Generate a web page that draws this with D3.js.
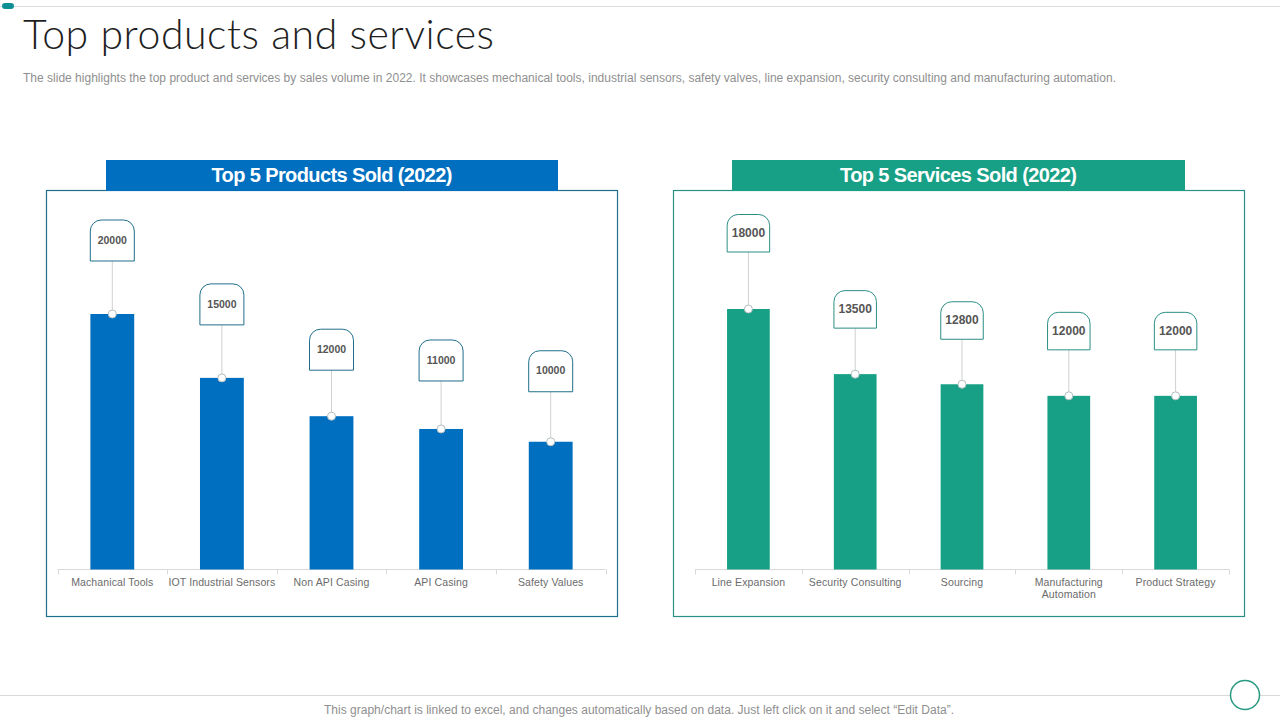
<!DOCTYPE html>
<html lang="en">
<head>
  <meta charset="UTF-8">
  <title>Top products and services</title>
  <script src="https://d3js.org/d3.v7.min.js"></script>
  <style>
    html, body { margin: 0; padding: 0; background: #fff; }
    svg { display: block; }
    text { font-family: "Liberation Sans", Arial, sans-serif; }
    .title { font-family: Lato, sans-serif; font-weight: 300; font-size: 41px; fill: #1f1f1f; }
    .note { font-size: 12px; fill: #8f8f8f; }
    .head { font-size: 20px; font-weight: bold; fill: #fff; text-anchor: middle; }
    .cat { font-size: 10.5px; fill: #6b6b6b; text-anchor: middle; letter-spacing: .12px; }
    .axis line, .axis path { stroke: #d9d9d9; }
    .val { font-weight: bold; fill: #555; text-anchor: middle; }
  </style>
</head>
<body>
  <svg id="slide" width="1280" height="720"></svg>
  <script>
    const productNames = ['Machanical Tools', 'IOT Industrial Sensors', 'Non API Casing', 'API Casing', 'Safety Values'];
    const productValues = [20000, 15000, 12000, 11000, 10000];
    const productLeaders = [53, 53, 46, 48, 50]; // stem length above each bar

    const serviceNames = ['Line Expansion', 'Security Consulting', 'Sourcing', 'Manufacturing|Automation', 'Product Strategy'];
    const serviceValues = [18000, 13500, 12800, 12000, 12000];
    const serviceLeaders = [57, 46, 45, 46, 46];

    const svg = d3.select('#slide');

    // slide furniture
    svg.append('line').attr('x1', 0).attr('x2', 1280).attr('y1', 6.5).attr('y2', 6.5).attr('stroke', '#dedede');
    svg.append('rect').attr('x', 2).attr('y', 3).attr('width', 12).attr('height', 6).attr('rx', 3).attr('fill', '#0f8f96');
    svg.append('text').attr('class', 'title').attr('x', 23).attr('y', 49)
      .attr('textLength', 471).text('Top products and services');
    svg.append('text').attr('class', 'note').attr('x', 23).attr('y', 82).attr('textLength', 1093)
      .text('The slide highlights the top product and services by sales volume in 2022. It showcases mechanical tools, industrial sensors, safety valves,  line expansion, security consulting and manufacturing automation.');

    svg.append('line').attr('x1', 0).attr('x2', 1280).attr('y1', 695.5).attr('y2', 695.5).attr('stroke', '#d9d9d9');
    svg.append('circle').attr('cx', 1245).attr('cy', 695).attr('r', 14.5)
      .attr('fill', '#fff').attr('stroke', '#2a9a80').attr('stroke-width', 1.5);
    svg.append('text').attr('class', 'note').attr('x', 639).attr('y', 714).attr('text-anchor', 'middle')
      .attr('textLength', 630).text('This graph/chart is linked to excel, and changes automatically based on data. Just left click on it and select \u201cEdit Data\u201d.');

    function callout(g, x, top, w, h, r) {
      const path = d3.path();
      path.moveTo(x - w / 2, top + h);
      path.lineTo(x - w / 2, top + r);
      path.arcTo(x - w / 2, top, x - w / 2 + r, top, r);
      path.lineTo(x + w / 2 - r, top);
      path.arcTo(x + w / 2, top, x + w / 2, top + r, r);
      path.lineTo(x + w / 2, top + h);
      path.closePath();
      return g.append('path').attr('d', path.toString());
    }

    function drawPanel(cfg) {
      const g = svg.append('g');

      g.append('rect').attr('x', cfg.frame[0]).attr('y', 190.5)
        .attr('width', cfg.frame[1] - cfg.frame[0]).attr('height', 426)
        .attr('fill', '#fff').attr('stroke', cfg.frameColor).attr('stroke-width', 1.2);
      g.append('rect').attr('x', cfg.header[0]).attr('y', 160)
        .attr('width', cfg.header[1] - cfg.header[0]).attr('height', 31).attr('fill', cfg.color);
      g.append('text').attr('class', 'head').attr('x', (cfg.header[0] + cfg.header[1]) / 2).attr('y', 182)
        .attr('textLength', cfg.headWidth).text(cfg.title);

      const x = d3.scaleBand().domain(cfg.names).range(cfg.axis).paddingInner(0.6).paddingOuter(0.3);
      const y = d3.scaleLinear().domain([0, cfg.max]).range([569.5, cfg.top]);

      const axis = g.append('g').attr('class', 'axis').attr('transform', 'translate(0,569.5)')
        .call(d3.axisBottom(x).tickSize(0).tickFormat(''));
      axis.selectAll('.tick').remove();
      axis.select('.domain').attr('d', `M${cfg.axis[0]},0H${cfg.axis[1]}`);

      // ticks sit between categories, not under them
      d3.range(cfg.names.length + 1).forEach(i => {
        const tx = Math.round(cfg.axis[0] + i * x.step()) + 0.5;
        axis.append('line').attr('x1', tx).attr('x2', tx).attr('y1', 0).attr('y2', 5);
      });

      g.selectAll('.bar').data(cfg.values).enter().append('rect')
        .attr('class', 'bar')
        .attr('x', (d, i) => x(cfg.names[i]))
        .attr('y', d => y(d))
        .attr('width', x.bandwidth())
        .attr('height', d => 569.5 - y(d))
        .attr('fill', cfg.color);

      const label = g.selectAll('.cat').data(cfg.names).enter().append('text')
        .attr('class', 'cat')
        .attr('y', 586);
      label.selectAll('tspan').data(d => d.split('|').map(t => ({ t, d }))).enter().append('tspan')
        .attr('x', d => x(d.d) + x.bandwidth() / 2)
        .attr('dy', (d, i) => i ? 12 : 0)
        .text(d => d.t);

      cfg.values.forEach((v, i) => {
        const cx = x(cfg.names[i]) + x.bandwidth() / 2;
        const top = y(v);
        const boxBottom = top - cfg.leaders[i];
        g.append('line').attr('x1', cx).attr('x2', cx).attr('y1', boxBottom).attr('y2', top)
          .attr('stroke', '#d0d0d0');
        callout(g, cx, boxBottom - cfg.boxH, cfg.boxW, cfg.boxH, 11)
          .attr('fill', '#fff').attr('stroke', cfg.frameColor).attr('stroke-width', 1);
        g.append('text').attr('class', 'val').attr('x', cx).attr('y', boxBottom - cfg.boxH / 2 + cfg.valSize * 0.3)
          .style('font-size', cfg.valSize + 'px').text(v);
        g.append('circle').attr('cx', cx).attr('cy', top).attr('r', 4)
          .attr('fill', '#fff').attr('stroke', '#b4bec0').attr('stroke-width', 1);
      });
    }

    drawPanel({
      title: 'Top 5 Products Sold (2022)', names: productNames, values: productValues, leaders: productLeaders,
      frame: [46.5, 617.5], header: [106, 558], headWidth: 241, axis: [57.5, 605.5],
      color: '#006fc0', frameColor: '#1f6f8b', max: 20000, top: 314, boxW: 44, boxH: 41, valSize: 10.5
    });

    drawPanel({
      title: 'Top 5 Services Sold (2022)', names: serviceNames, values: serviceValues, leaders: serviceLeaders,
      frame: [673.5, 1244.5], header: [732, 1185], headWidth: 237, axis: [695, 1229],
      color: '#17a085', frameColor: '#2a8f85', max: 18000, top: 309, boxW: 42.5, boxH: 37.5, valSize: 12
    });
  </script>
</body>
</html>
